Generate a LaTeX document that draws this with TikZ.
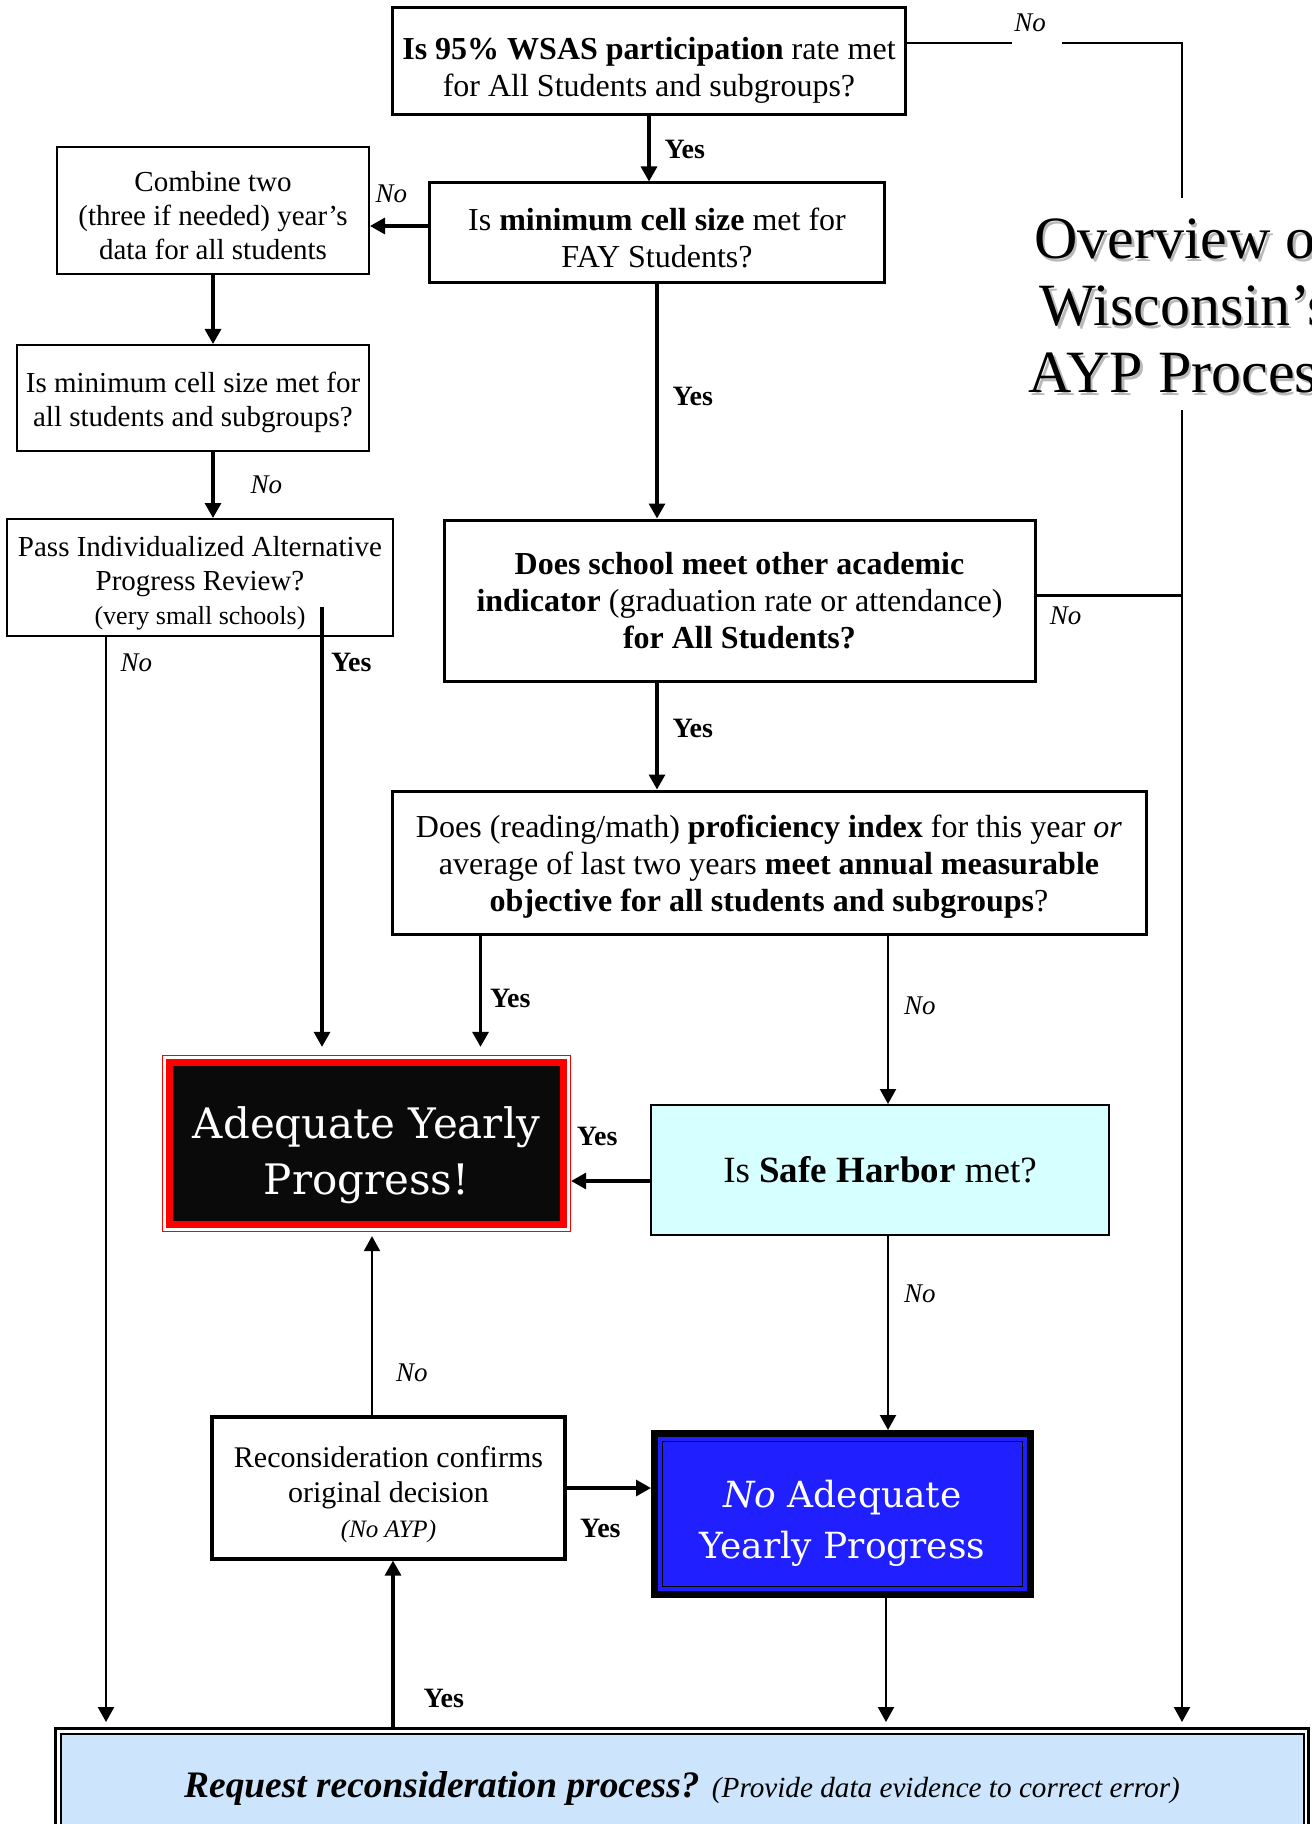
\documentclass[tikz,border=0pt]{standalone}
\usepackage{fontspec}
\setmainfont{Liberation Serif}
\newfontfamily\aypfont{DejaVu Serif}
\usetikzlibrary{arrows.meta,positioning,calc}
\definecolor{aypred}{RGB}{255,0,0}
\definecolor{aypblack}{RGB}{10,10,10}
\definecolor{noaypblue}{RGB}{31,31,255}
\definecolor{harborcyan}{RGB}{214,255,255}
\definecolor{requestblue}{RGB}{204,229,252}
\newcommand{\topgap}[1]{\rule{0pt}{#1}}
\tikzset{bigq/.style={draw, line width=1.5pt, inner sep=2pt, align=center,
font=\fontsize{16}{18.5}\selectfont},
smallq/.style={draw, line width=1pt, inner sep=2pt, align=center,
font=\fontsize{14.5}{17}\selectfont},
flow/.style={line width=1.6pt, -{Triangle[length=7.5pt,width=8pt]}},
thinflow/.style={line width=1.1pt, -{Triangle[length=7.5pt,width=8pt]}},
thinline/.style={line width=1.1pt},
yes/.style={font=\fontsize{14}{16}\selectfont\bfseries, inner sep=1pt},
no/.style={font=\fontsize{13.5}{16}\selectfont\itshape, inner sep=1pt},
ayp/.style={draw=aypred, line width=0.65pt, fill=white, text=white, align=center,
font=\aypfont\fontsize{21}{28}\selectfont,
path picture={\draw[aypred, line width=3.65pt, fill=aypblack]
([shift={(3.5pt,-3.5pt)}]path picture bounding box.north west) rectangle
([shift={(-3.5pt,3.5pt)}]path picture bounding box.south east);}},
noayp/.style={draw=black, line width=3.5pt, fill=noaypblue, text=white, align=center,
font=\aypfont\fontsize{18}{25.5}\selectfont,
path picture={\draw[black, line width=0.65pt]
([shift={(4pt,-4pt)}]path picture bounding box.north west) rectangle
([shift={(-4pt,4pt)}]path picture bounding box.south east);}},
harbor/.style={draw, line width=1pt, fill=harborcyan, font=\fontsize{18.5}{22}\selectfont},
request/.style={draw=black, line width=1.5pt, fill=white,
font=\fontsize{18.7}{22}\selectfont\bfseries\itshape,
path picture={\draw[black, line width=1pt, fill=requestblue]
([shift={(2.5pt,-2.5pt)}]path picture bounding box.north west) rectangle
([shift={(-2.5pt,2.5pt)}]path picture bounding box.south east);}},
title/.style={align=center, inner sep=0pt, font=\fontsize{30}{33.5}\selectfont}}

\begin{document}
\begin{tikzpicture}[x=0.5pt, y=-0.5pt]
\useasboundingbox (0,0) rectangle (1311,1824);
\clip (0,0) rectangle (1311,1824);

\node[bigq, minimum width=256.5pt, minimum height=53.5pt] (wsas) at (649,61.5)
  {\topgap{20pt}\textbf{Is 95\% WSAS participation} rate met\\for All Students and subgroups?};
\node[bigq, minimum width=227.5pt, minimum height=50pt] (cellfay) at (657,233)
  {\topgap{15.8pt}Is \textbf{minimum cell size} met for\\FAY Students?};
\node[smallq, minimum width=156pt, minimum height=63.5pt] (combine) at (213,210.5)
  {\topgap{15.1pt}Combine two\\(three if needed) year’s\\data for all students};
\node[smallq, minimum width=176pt, minimum height=53pt] (cellall) at (193,398)
  {\topgap{15.1pt}Is minimum cell size met for\\all students and subgroups?};
\node[smallq, minimum width=193pt, minimum height=58.5pt] (iapr) at (200,577.5)
  {\topgap{15.9pt}Pass Individualized Alternative\\Progress Review?\\{\fontsize{13}{15}\selectfont(very small schools)}};
\node[bigq, minimum width=295.5pt, minimum height=80.5pt] (other) at (739.5,600.5)
  {\textbf{Does school meet other academic}\\\textbf{indicator} (graduation rate or attendance)\\\textbf{for All Students?}};
\node[bigq, minimum width=377pt, minimum height=71.5pt] (prof) at (769,862.5)
  {\topgap{16pt}Does (reading/math) \textbf{proficiency index} for this year \textit{or}\\average of last two years \textbf{meet annual measurable}\\\textbf{objective for all students and subgroups}?};
\node[ayp, minimum width=204pt, minimum height=88pt] (aypyes) at (366.5,1143.5)
  {\topgap{27.5pt}Adequate Yearly\\Progress!};
\node[harbor, minimum width=229pt, minimum height=65pt] (safeharbor) at (880,1170)
  {Is \textbf{Safe Harbor} met?};
\node[noayp, minimum width=188pt, minimum height=80.5pt] (aypno) at (842.5,1514)
  {\topgap{22.5pt}\textit{No} Adequate\\Yearly Progress};
\node[bigq, line width=1.6pt, font=\fontsize{15}{17.5}\selectfont, minimum width=176.5pt, minimum height=71pt] (confirm) at (388.5,1488)
  {\topgap{17.25pt}Reconsideration confirms\\original decision\\{\fontsize{12.5}{15}\selectfont\itshape(No AYP)}};
\node[request, minimum width=626.5pt, minimum height=59.5pt] (reconsider) at (682,1788)
  {Request reconsideration process? {\fontsize{14.6}{17}\selectfont\mdseries\itshape(Provide data evidence to correct error)}};

\node[title, text=gray!55] (titleshade) at (1187.5,307.5) {Overview of\\Wisconsin’s\\AYP Process};
\node[title] (maintitle) at (1185,305) {Overview of\\Wisconsin’s\\AYP Process};
\node[no] (notop) at (1030,23) {No};

\coordinate (toplft) at (1012,43);
\coordinate (toprgt) at (1062,43);
\coordinate (topcorner) at (1182,43);
\coordinate (titletop) at (1182,198);
\coordinate (titlebot) at (1182,410);
\coordinate (cellno) at ([yshift=3.5pt]cellfay.west);
\coordinate (otherno) at ([yshift=2.5pt]other.east);
\coordinate (profyes) at ([xshift=45pt]prof.south west);
\coordinate (harborin) at ([xshift=4pt]safeharbor.north);
\coordinate (harbordown) at ([xshift=4pt]safeharbor.south);
\coordinate (harborout) at ([yshift=-5.5pt]safeharbor.west);
\coordinate (aypback) at ([xshift=2.75pt]aypyes.south);
\coordinate (confirmin) at ([xshift=2.25pt]confirm.south);
\coordinate (noaypout) at ([xshift=21.75pt]aypno.south);
\coordinate (iaprno) at ([xshift=50pt]iapr.south west);
\coordinate (iapryes) at (322,607);

\draw (wsas.south) edge[flow] node[yes, right=6pt] {Yes} (wsas.south |- cellfay.north)
      (cellno) edge[flow] node[no, above=10pt, pos=0.63] {No} (cellno -| combine.east)
      (combine.south) edge[flow] (combine.south |- cellall.north)
      (combine.south |- cellall.south) edge[flow] node[no, right=17pt] {No} (combine.south |- iapr.north)
      (cellfay.south) edge[flow] node[yes, right=6pt, pos=0.48] {Yes} (cellfay.south |- other.north)
      (cellfay.south |- other.south) edge[flow] node[yes, right=6pt, pos=0.43] {Yes} (cellfay.south |- prof.north)
      (profyes) edge[flow, shorten >=4pt] node[yes, right=3pt, pos=0.53] {Yes} (profyes |- aypyes.north)
      (prof.south -| harborin) edge[thinflow] node[no, right=6.5pt, pos=0.415] {No} (harborin)
      (harborout) edge[flow] node[yes, above=16pt, pos=0.67] {Yes} (harborout -| aypyes.east)
      (harbordown) edge[thinflow] node[no, right=6.5pt, pos=0.3] {No} (harbordown |- aypno.north)
      (noaypout) edge[thinflow, shorten >=2.5pt] (noaypout |- reconsider.north)
      (confirm.north -| aypback) edge[thinflow, shorten >=2pt] node[no, right=10.5pt, pos=0.23] {No} (aypback)
      (confirm.east) edge[flow] node[yes, below=14pt, pos=0.4] {Yes} (confirm.east -| aypno.west)
      (reconsider.north -| confirmin) edge[flow] node[yes, right=13.5pt, pos=0.17] {Yes} (confirmin)
      (iaprno) edge[thinflow, shorten >=2.5pt] node[no, right=5.75pt, pos=0.024] {No} (iaprno |- reconsider.north)
      (iapryes) edge[flow, shorten >=4pt] node[yes, right=2.75pt, pos=0.123] {Yes} (iapryes |- aypyes.north)
      (otherno) edge[thinline] node[no, below=4.25pt, pos=0.2] {No} (otherno -| titlebot)
      ;
\draw[thinline] (wsas.east |- toplft) -- (toplft) (toprgt) -- (topcorner) -- (titletop);
\draw[thinflow, shorten >=2.5pt] (titlebot) -- (titlebot |- reconsider.north);
\end{tikzpicture}
\end{document}
